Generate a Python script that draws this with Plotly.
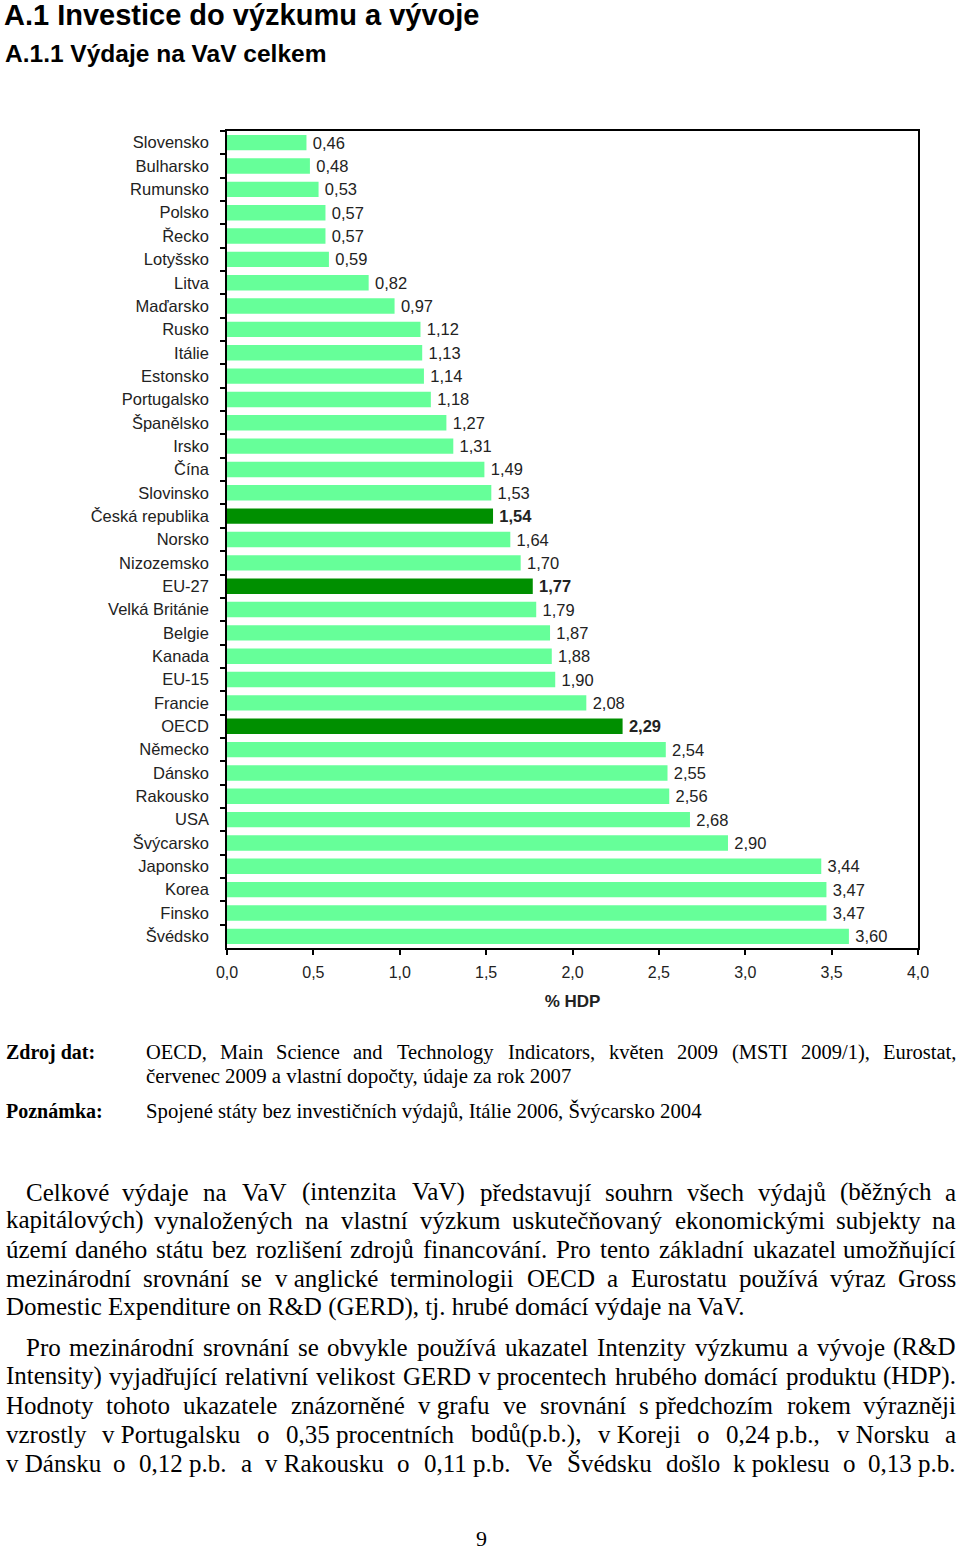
import unicodedata
import plotly.graph_objects as go

# ---------------- data ----------------
countries = ["Slovensko", "Bulharsko", "Rumunsko", "Polsko", "Řecko", "Lotyšsko", "Litva",
             "Maďarsko", "Rusko", "Itálie", "Estonsko", "Portugalsko", "Španělsko", "Irsko",
             "Čína", "Slovinsko", "Česká republika", "Norsko", "Nizozemsko", "EU-27",
             "Velká Británie", "Belgie", "Kanada", "EU-15", "Francie", "OECD", "Německo",
             "Dánsko", "Rakousko", "USA", "Švýcarsko", "Japonsko", "Korea", "Finsko", "Švédsko"]
values = [0.46, 0.48, 0.53, 0.57, 0.57, 0.59, 0.82, 0.97, 1.12, 1.13, 1.14, 1.18, 1.27, 1.31,
          1.49, 1.53, 1.54, 1.64, 1.70, 1.77, 1.79, 1.87, 1.88, 1.90, 2.08, 2.29, 2.54, 2.55,
          2.56, 2.68, 2.90, 3.44, 3.47, 3.47, 3.60]
highlight = ["Česká republika", "EU-27", "OECD"]
x_title = "% HDP"

heading1 = "A.1 Investice do výzkumu a vývoje"
heading2 = "A.1.1 Výdaje na VaV celkem"
source_label = "Zdroj dat:"
source_lines = ["OECD, Main Science and Technology Indicators, květen 2009 (MSTI 2009/1), Eurostat,",
                "červenec 2009 a vlastní dopočty, údaje za rok 2007"]
note_label = "Poznámka:"
note_line = "Spojené státy bez investičních výdajů, Itálie 2006, Švýcarsko 2004"
para1 = ["Celkové výdaje na VaV (intenzita VaV) představují souhrn všech výdajů (běžných a",
         "kapitálových) vynaložených na vlastní výzkum uskutečňovaný ekonomickými subjekty na",
         "území daného státu bez rozlišení zdrojů financování. Pro tento základní ukazatel umožňující",
         "mezinárodní srovnání se v\u00a0anglické terminologii OECD a Eurostatu používá výraz Gross",
         "Domestic Expenditure on R&D (GERD), tj. hrubé domácí výdaje na VaV."]
para2 = ["Pro mezinárodní srovnání se obvykle používá ukazatel Intenzity výzkumu a vývoje (R&D",
         "Intensity) vyjadřující relativní velikost GERD v\u00a0procentech hrubého domácí produktu (HDP).",
         "Hodnoty tohoto ukazatele znázorněné v\u00a0grafu ve srovnání s\u00a0předchozím rokem výrazněji",
         "vzrostly v\u00a0Portugalsku o 0,35\u00a0procentních bodů(p.b.), v\u00a0Koreji o 0,24\u00a0p.b., v\u00a0Norsku a",
         "v\u00a0Dánsku o 0,12\u00a0p.b. a v\u00a0Rakousku o 0,11\u00a0p.b. Ve Švédsku došlo k\u00a0poklesu o 0,13\u00a0p.b."]
page_number = "9"

# ---------------- helpers ----------------
W, H = 960, 1550
LIGHT = "#66FF99"
DARK = "#008F00"
SERIF = "Liberation Serif, Times New Roman, serif"
SANS = "Liberation Sans, Arial, sans-serif"

TIMES = {" ": 250, "\u00a0": 250, "!": 333, "\"": 408, "#": 500, "$": 500, "%": 833, "&": 778,
         "'": 333, "(": 333, ")": 333, "*": 500, "+": 564, ",": 250, "-": 333, ".": 250, "/": 278,
         ":": 278, ";": 278, "?": 444, "A": 722, "B": 667, "C": 667, "D": 722, "E": 611, "F": 556,
         "G": 722, "H": 722, "I": 333, "J": 389, "K": 722, "L": 611, "M": 889, "N": 722, "O": 722,
         "P": 556, "Q": 722, "R": 667, "S": 556, "T": 611, "U": 722, "V": 722, "W": 944, "X": 722,
         "Y": 722, "Z": 611, "a": 444, "b": 500, "c": 444, "d": 500, "e": 444, "f": 333, "g": 500,
         "h": 500, "i": 278, "j": 278, "k": 500, "l": 278, "m": 778, "n": 500, "o": 500, "p": 500,
         "q": 500, "r": 333, "s": 389, "t": 278, "u": 500, "v": 500, "w": 722, "x": 500, "y": 500,
         "z": 444}


def text_width(s, size):
    tot = 0
    for ch in s:
        if ch.isdigit():
            tot += 500
            continue
        base = unicodedata.normalize("NFD", ch)[0]
        tot += TIMES.get(base, 500)
    return tot * size / 1000.0


def px(x):
    return x / W


def py(y):
    return 1 - y / H


annotations = []


def add_text(txt, x, y, size, family=SERIF, anchor="left", color="#000"):
    annotations.append(dict(text=txt, x=px(x), y=py(y), xref="paper", yref="paper",
                            xanchor=anchor, yanchor="middle", showarrow=False,
                            font=dict(size=size, family=family, color=color), borderpad=0))


def add_justified(line, left, right, y, size):
    words = line.split(" ")
    widths = [text_width(w, size) for w in words]
    gap = (right - left - sum(widths)) / (len(words) - 1)
    x = left
    for i, (w, wd) in enumerate(zip(words, widths)):
        if i == 0:
            add_text(w, left, y, size, anchor="left")
        elif i == len(words) - 1:
            add_text(w, right, y, size, anchor="right")
        else:
            add_text(w, x + wd / 2, y, size, anchor="center")
        x += wd + gap


# ---------------- chart ----------------
colors = [DARK if c in highlight else LIGHT for c in countries]
labels = [("\u2009<b>%s</b>" if c in highlight else "\u2009%s") % f"{v:.2f}".replace(".", ",")
          for c, v in zip(countries, values)]

fig = go.Figure(go.Bar(
    x=values, y=countries, orientation="h", marker=dict(color=colors, line=dict(width=0)),
    width=0.66, text=labels, textposition="outside", cliponaxis=False, constraintext="none",
    textfont=dict(size=16.5, family=SANS, color="#222"), hoverinfo="skip"))

fig.update_layout(
    width=W, height=H, margin=dict(l=0, r=0, t=0, b=0, autoexpand=False),
    paper_bgcolor="white", plot_bgcolor="white", showlegend=False,
    separators=", ", bargap=0.34,
    xaxis=dict(domain=[px(227), px(918)], range=[0, 4], dtick=0.5, tick0=0, tickformat=".1f",
               automargin=False,
               showline=True, linecolor="black", linewidth=1.5, mirror=True,
               ticks="outside", ticklen=5, tickcolor="black", tickwidth=1.5,
               showgrid=False, zeroline=False, ticklabelstandoff=4,
               tickfont=dict(size=16, family=SANS, color="#222"),
               title=dict(text="<b>" + x_title + "</b>", standoff=15,
                          font=dict(size=17, family=SANS, color="#222"))),
    yaxis=dict(domain=[py(948), py(131)], categoryorder="array", categoryarray=countries,
               autorange="reversed", automargin=False,
               showline=True, linecolor="black", linewidth=1.5, mirror=True,
               ticks="outside", tickson="boundaries", ticklen=5, tickcolor="black", tickwidth=1.5,
               showgrid=False, zeroline=False, ticklabelstandoff=13,
               tickfont=dict(size=16.5, family=SANS, color="#222")),
)

# ---------------- page text ----------------
add_text("<b>" + heading1 + "</b>", 3, 15, 29, family=SANS)
add_text("<b>" + heading2 + "</b>", 4, 54, 24.5, family=SANS)

add_text("<b>" + source_label + "</b>", 5, 1052, 20)
add_justified(source_lines[0], 145, 957, 1052, 20.5)
add_text(source_lines[1], 145, 1076, 20.8)
add_text("<b>" + note_label + "</b>", 5, 1111, 20)
add_text(note_line, 145, 1111, 20.75)

ys1 = [1192, 1220, 1249, 1278, 1307]
for i, (line, y) in enumerate(zip(para1, ys1)):
    left = 25 if i == 0 else 5
    if i < len(para1) - 1:
        add_justified(line, left, 957, y, 25)
    else:
        add_text(line, left, y, 25)

ys2 = [1347, 1376, 1405, 1434, 1463]
for i, (line, y) in enumerate(zip(para2, ys2)):
    left = 25 if i == 0 else 5
    add_justified(line, left, 957, y, 25)

add_text(page_number, 481, 1538, 22, anchor="center")

fig.update_layout(annotations=annotations)
fig.write_html("out.html", config={"displayModeBar": False},
               post_script="document.body.style.margin='0px';")
